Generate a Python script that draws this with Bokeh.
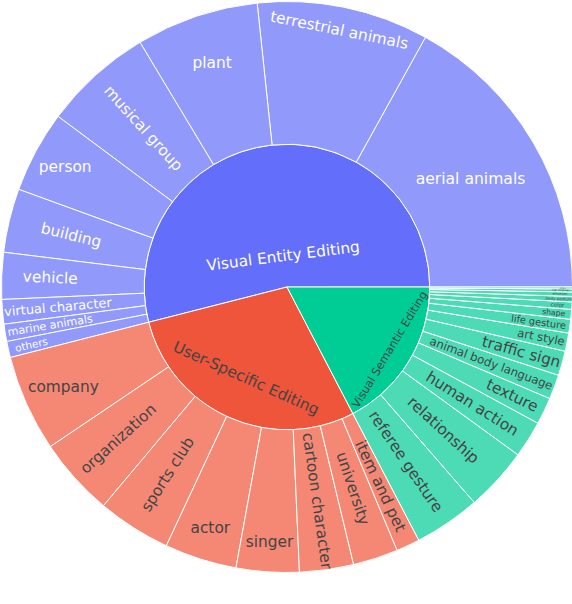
import math
from bokeh.plotting import figure
from bokeh.models import Range1d, ColumnDataSource
from bokeh.core.properties import value
from bokeh.embed import file_html
from bokeh.resources import INLINE

# ---------------- data (shares of the full circle) ----
parents = ["Visual Entity Editing", "User-Specific Editing", "Visual Semantic Editing"]
parent_colors = ["#636efa", "#ef553b", "#00cc96"]

vee_labels = ["aerial animals", "terrestrial animals", "plant", "musical group", "person",
              "building", "vehicle", "virtual character", "marine animals", "others"]
vee_values = [61.0, 35.0, 25.0, 22.3, 16.7, 13.0, 9.5, 5.0, 3.5, 3.3]

use_labels = ["company", "organization", "sports club", "actor", "singer",
              "cartoon character", "university", "item and pet"]
use_values = [19.7, 16.0, 15.0, 14.7, 12.8, 11.0, 9.2, 4.8]

vse_labels = ["referee gesture", "relationship", "human action", "texture",
              "animal body language", "traffic sign", "art style", "life gesture", "shape",
              "color", "body posture", "emotion", "sign language", "others"]
vse_values = [13.5, 13.0, 7.5, 5.5, 5.0, 5.0, 3.7, 2.8, 2.0, 1.5, 1.1, 0.9, 0.6, 0.4]

children = [vee_labels, use_labels, vse_labels]
child_values = [vee_values, use_values, vse_values]

# ---------------- styles ----------------
R = 285.5
RI = R / 2
FONT = value("DejaVu Sans")
DARK = "#444444"

# per-leaf label style: (radius px, orientation, font size px)
leaf_style = {
    "aerial animals": (213, "h", 15.6), "terrestrial animals": (262, "t", 15.4),
    "plant": (236, "h", 15.4), "musical group": (214, "r", 15.4),
    "person": (252, "h", 15.4), "building": (222, "r", 15.4),
    "vehicle": (237, "r", 15.4), "virtual character": (230, "r", 13.0),
    "marine animals": (240, "r", 11.1), "others_vee": (262, "r", 10.4),
    "company": (245, "h", 15.4), "organization": (227, "r", 15.4),
    "sports club": (222, "r", 15.4), "actor": (253, "h", 15.4),
    "singer": (256, "h", 15.4), "cartoon character": (216, "r", 15.4),
    "university": (212, "r", 15.4), "item and pet": (220, "r", 15.4),
    "referee gesture": (211, "r", 15.4), "relationship": (212, "r", 15.4),
    "human action": (219, "r", 15.4), "texture": (250, "r", 15.4),
    "animal body language": (218, "r", 11.7), "traffic sign": (243, "r", 15.2),
    "art style": (259, "r", 11.6), "life gesture": (254, "r", 9.8),
    "shape": (268, "r", 7.7), "color": (271, "r", 5.5),
    "body posture": (272, "r", 4.0), "emotion": (273, "r", 3.6),
    "sign language": (274, "r", 2.6), "others_vse": (276, "r", 2.0),
}
parent_style = [(31, "t", 15.4), (100, "t", 15.4), (120, "t", 11.4)]
parent_text_colors = ["white", DARK, DARK]


def text_angle(theta, mode):
    if mode == "h":
        return 0.0
    a = theta - 90 if mode == "t" else theta
    a = (a + 180) % 360 - 180
    if a > 90:
        a -= 180
    elif a <= -90:
        a += 180
    return a


inner = dict(start=[], end=[], color=[])
outer = dict(start=[], end=[], color=[])
txt = dict(x=[], y=[], text=[], angle=[], size=[], color=[])

total = sum(sum(v) for v in child_values)
pos = 0.0
for i, name in enumerate(parents):
    p_start = pos
    for lab, v in zip(children[i], child_values[i]):
        s = pos
        e = pos + v / total * 2 * math.pi
        outer["start"].append(s)
        outer["end"].append(e)
        outer["color"].append(parent_colors[i])
        key = lab
        if lab == "others":
            key = "others_vee" if i == 0 else "others_vse"
        r, mode, fs = leaf_style[key]
        mid = (s + e) / 2
        txt["x"].append(r * math.cos(mid))
        txt["y"].append(r * math.sin(mid))
        txt["text"].append(lab)
        txt["angle"].append(math.radians(text_angle(math.degrees(mid), mode)))
        txt["size"].append(f"{fs}px")
        txt["color"].append("white" if i == 0 else DARK)
        pos = e
    inner["start"].append(p_start)
    inner["end"].append(pos)
    inner["color"].append(parent_colors[i])
    r, mode, fs = parent_style[i]
    mid = (p_start + pos) / 2
    txt["x"].append(r * math.cos(mid))
    txt["y"].append(r * math.sin(mid))
    txt["text"].append(name)
    txt["angle"].append(math.radians(text_angle(math.degrees(mid), mode)))
    txt["size"].append(f"{fs}px")
    txt["color"].append(parent_text_colors[i])

W, H = 572, 592
cx, cy = 286.5, 286.5  # centre inside the figure, px from left / top
p = figure(width=W, height=H, output_backend="svg", toolbar_location=None,
           x_range=Range1d(-cx, W - cx), y_range=Range1d(-(H - cy), cy),
           x_axis_location=None, y_axis_location=None, min_border=0,
           background_fill_color="white", border_fill_color="white")
p.outline_line_color = None
p.grid.visible = False

p.wedge(x=0, y=0, radius=RI, start_angle="start", end_angle="end",
        fill_color="color", line_color="white", line_width=1,
        source=ColumnDataSource(inner))
p.annular_wedge(x=0, y=0, inner_radius=RI, outer_radius=R, start_angle="start",
                end_angle="end", fill_color="color", fill_alpha=0.7,
                line_color="white", line_width=1, source=ColumnDataSource(outer))
p.text(x="x", y="y", text="text", angle="angle",
       text_align="center", text_baseline="middle", text_font=FONT,
       text_font_size="size", text_color="color", source=ColumnDataSource(txt))

open("out.html", "w").write(file_html(p, INLINE))
